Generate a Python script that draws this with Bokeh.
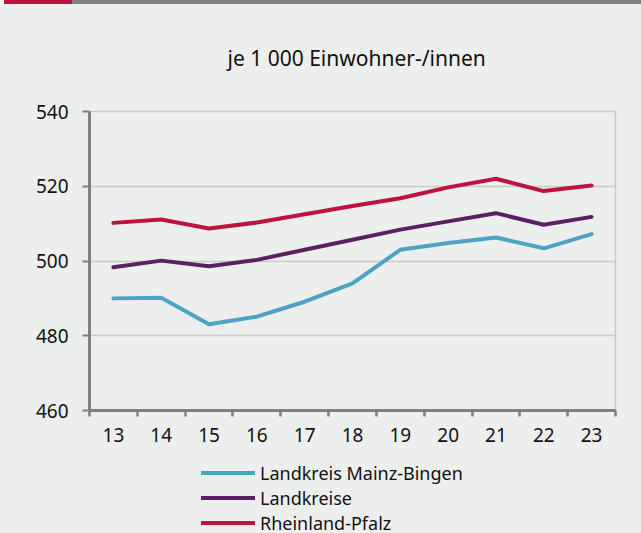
from bokeh.plotting import figure
from bokeh.models import (Range1d, FixedTicker, Legend, LegendItem, Title, Div)
from bokeh.layouts import column
from bokeh.embed import file_html
from bokeh.resources import INLINE

# ---- data ----
years = [13, 14, 15, 16, 17, 18, 19, 20, 21, 22, 23]
mainz_bingen = [490.0, 490.2, 483.1, 485.1, 489.1, 494.0, 503.0, 504.8, 506.3, 503.4, 507.2]
landkreise = [498.3, 500.1, 498.6, 500.3, 503.0, 505.7, 508.4, 510.6, 512.8, 509.7, 511.8]
rheinland_pfalz = [510.2, 511.1, 508.7, 510.3, 512.5, 514.7, 516.8, 519.7, 522.0, 518.7, 520.2]
series_names = ["Landkreis Mainz-Bingen", "Landkreise", "Rheinland-Pfalz"]
y_ticks = [460, 480, 500, 520, 540]
title_text = "je 1 000 Einwohner-/innen"

# ---- style ----
BG = "#EDEFEE"
AXIS = "#7F7F7F"
GRID = "#C9CACA"
COLORS = ["#4DA3C6", "#5C1F63", "#BE1241"]
FONT = "Noto Sans"
series = [mainz_bingen, landkreise, rheinland_pfalz]

bar = Div(text="", width=641, height=4,
          styles={"background": "linear-gradient(to right, #FFFFFF 0px, #FFFFFF 4px, #BE1241 4px, #BE1241 72px, #808080 72px, #808080 100%)",
                  "margin": "0", "padding": "0"})

p = figure(width=641, height=452, output_backend="svg", toolbar_location=None,
           x_range=Range1d(years[0] - 0.5, years[-1] + 0.5),
           y_range=Range1d(y_ticks[0], y_ticks[-1]),
           min_border_left=89, min_border_right=26, min_border_top=107, min_border_bottom=46,
           background_fill_color=BG, border_fill_color=BG)

p.outline_line_color = GRID
p.outline_line_width = 1.5

for vals, col in zip(series, COLORS):
    p.line(years, vals, line_color=col, line_width=4, line_join="round", line_cap="round")

# x axis: labels at category centres, ticks at boundaries (minor)
xa = p.xaxis[0]
xa.ticker = FixedTicker(ticks=years, minor_ticks=[y - 0.5 for y in years] + [years[-1] + 0.5])
xa.major_tick_out = 0
xa.major_tick_in = 0
xa.minor_tick_out = 6
xa.minor_tick_in = 0
xa.minor_tick_line_color = AXIS
xa.minor_tick_line_width = 2.5
xa.axis_line_color = AXIS
xa.axis_line_width = 3
xa.major_label_text_font = FONT
xa.major_label_text_font_size = "19px"
xa.major_label_text_color = "#111111"
xa.major_label_standoff = 11

ya = p.yaxis[0]
ya.ticker = FixedTicker(ticks=y_ticks, minor_ticks=[])
ya.major_tick_out = 7
ya.major_tick_in = 0
ya.major_tick_line_color = AXIS
ya.major_tick_line_width = 2
ya.axis_line_color = AXIS
ya.axis_line_width = 3
ya.major_label_text_font = FONT
ya.major_label_text_font_size = "19px"
ya.major_label_text_color = "#111111"
ya.major_label_standoff = 14

p.xgrid.grid_line_color = None
p.ygrid.ticker = FixedTicker(ticks=y_ticks)
p.ygrid.grid_line_color = GRID
p.ygrid.grid_line_width = 1.5

t = Title(text=title_text, align="left", offset=138, standoff=76, vertical_align="top",
          text_font=FONT, text_font_size="21px", text_font_style="normal", text_color="#111111")
p.add_layout(t, "above")

# ---- legend strip (same series, drawn out of view; only the legend shows) ----
lg = figure(width=641, height=77, output_backend="svg", toolbar_location=None,
            x_range=Range1d(0, 1), y_range=Range1d(0, 1),
            x_axis_location=None, y_axis_location=None,
            min_border=0, min_border_left=0, min_border_right=0, min_border_top=0, min_border_bottom=0,
            background_fill_color=BG, border_fill_color=BG)
lg.grid.visible = False
lg.outline_line_color = None
lg_renderers = []
for vals, col in zip(series, COLORS):
    lg_renderers.append(lg.line(years, vals, line_color=col, line_width=4, line_cap="round"))

legend = Legend(items=[LegendItem(label=n, renderers=[r]) for n, r in zip(series_names, lg_renderers)],
                location=(112, -2), orientation="vertical",
                glyph_width=54, glyph_height=25, label_height=25, spacing=0,
                padding=0, margin=0, label_standoff=5,
                label_text_font=FONT, label_text_font_size="18px", label_text_color="#111111",
                background_fill_alpha=0, border_line_color=None)
lg.add_layout(legend, "center")

layout = column(bar, p, lg, spacing=0, styles={"background-color": BG})
open("out.html", "w").write(file_html(layout, INLINE))
